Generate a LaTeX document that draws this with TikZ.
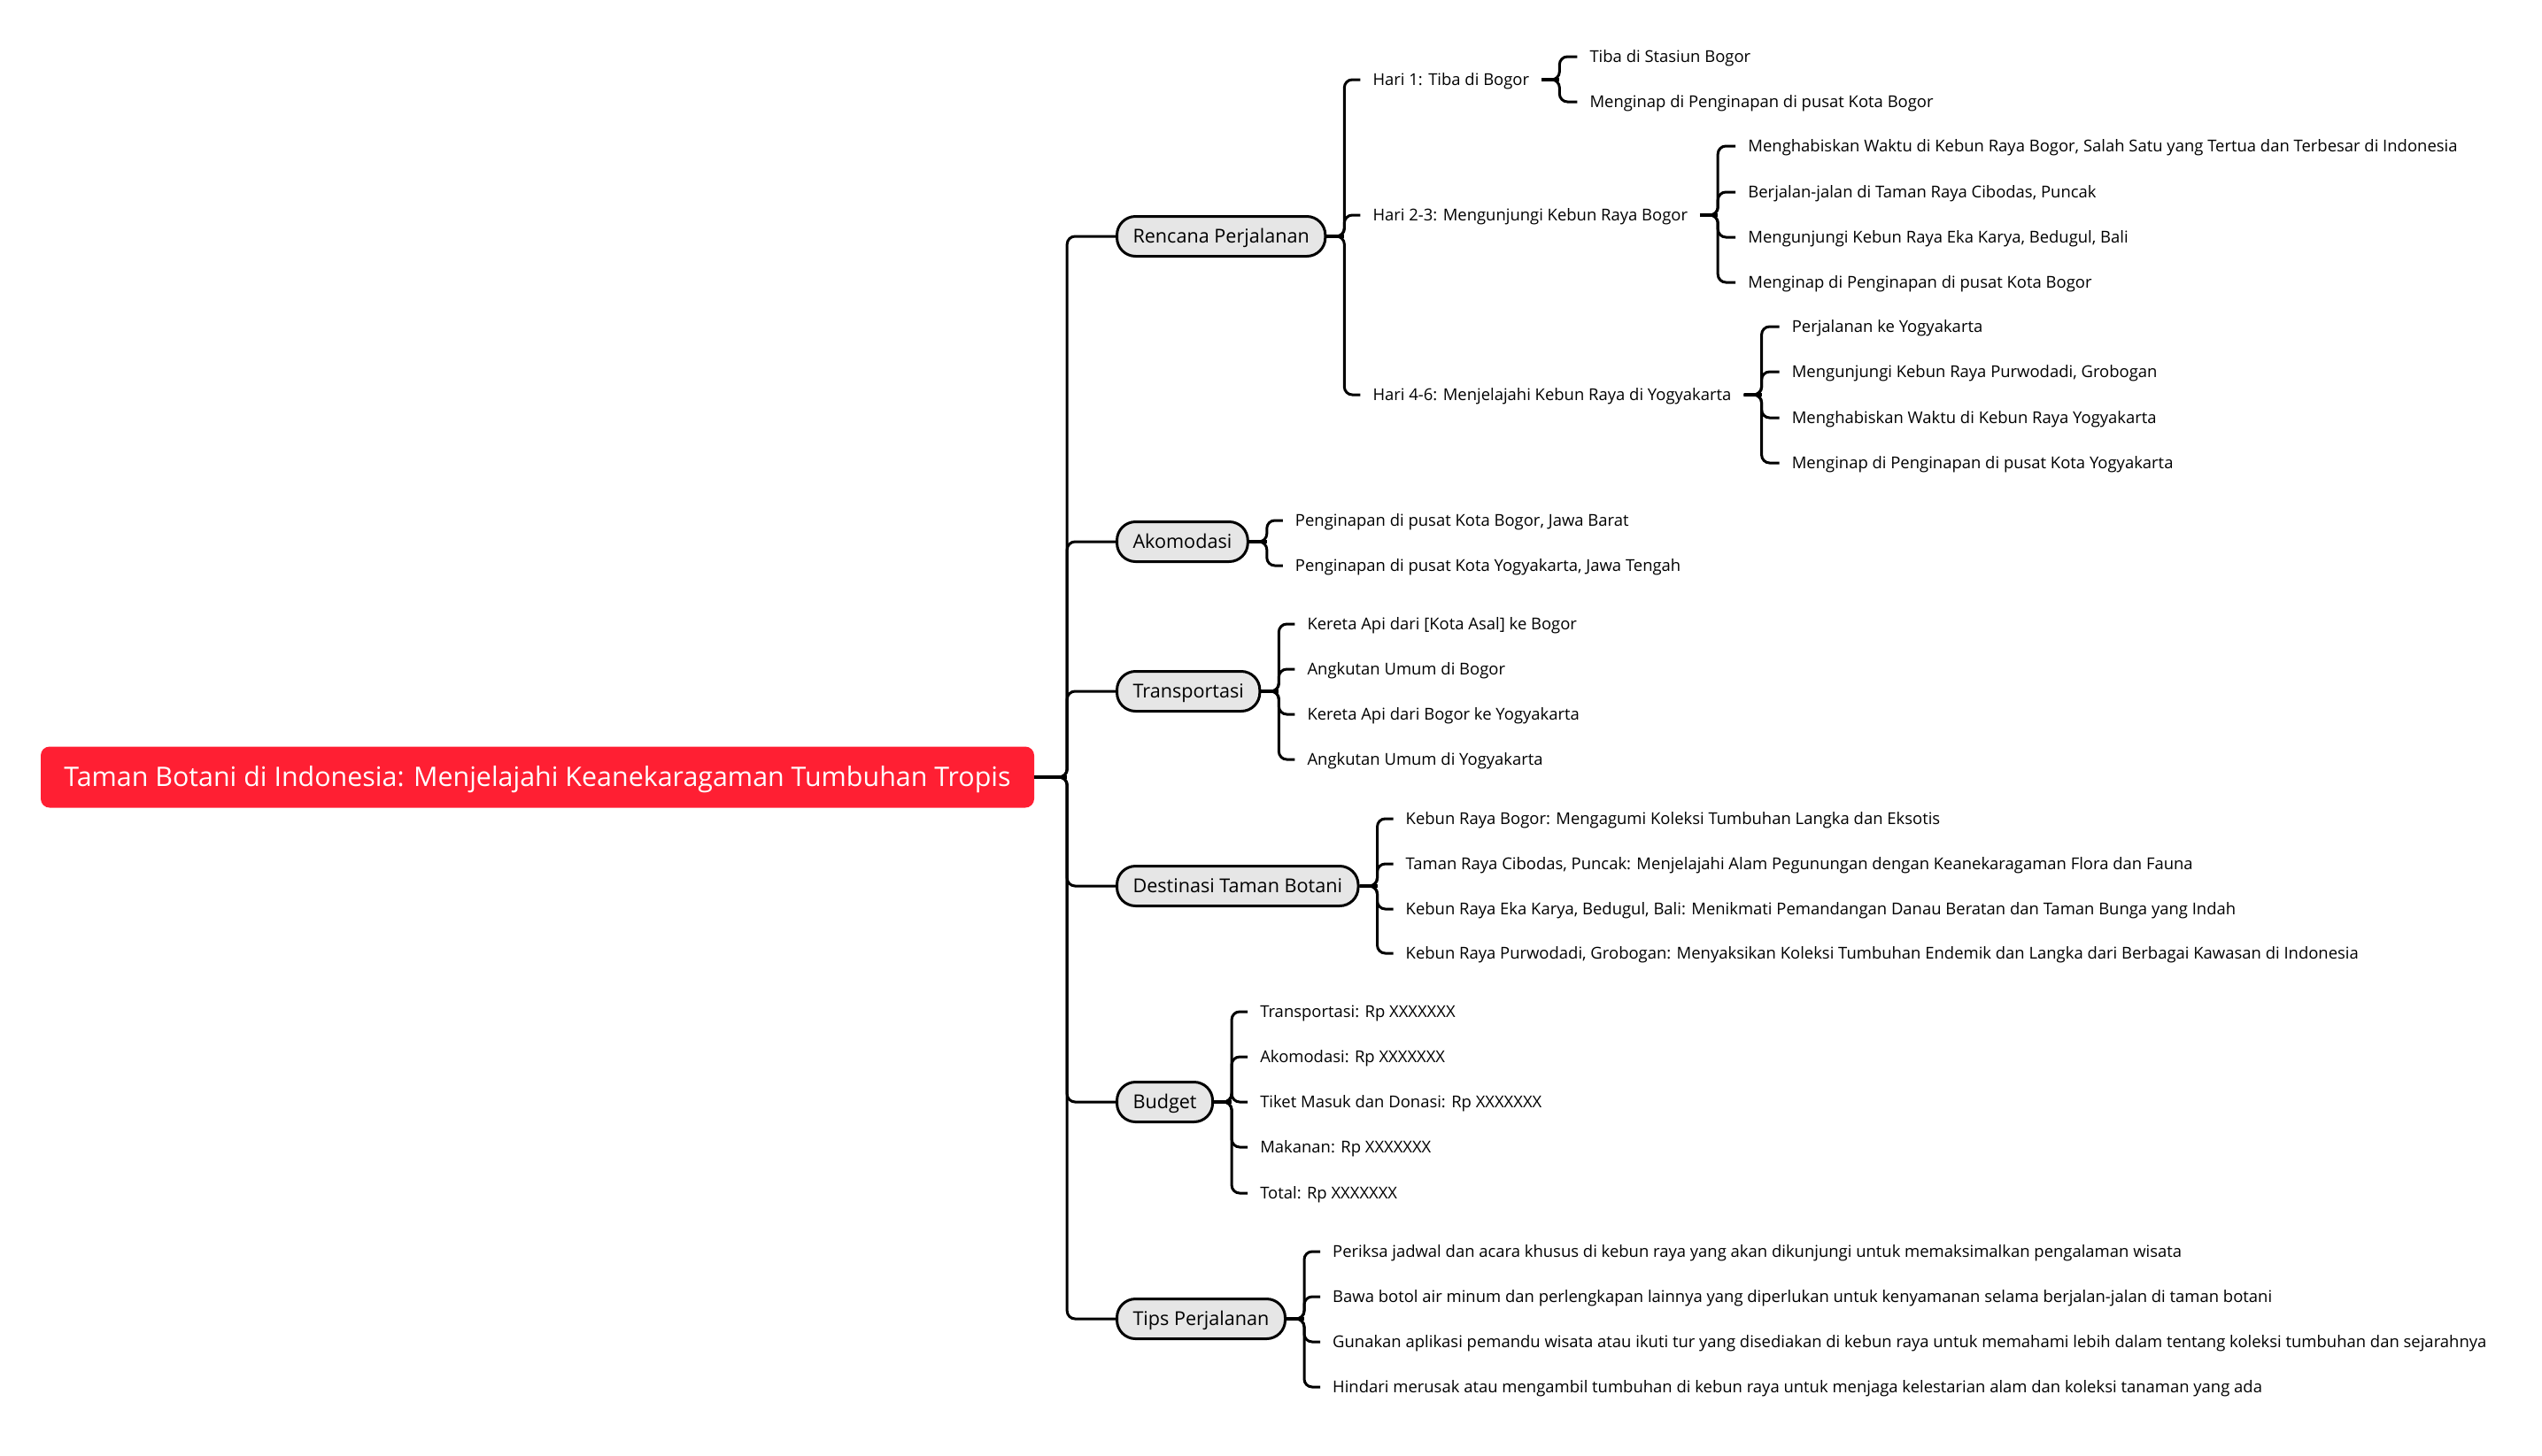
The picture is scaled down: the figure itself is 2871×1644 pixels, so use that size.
\documentclass[tikz,border=0pt]{standalone}
\usepackage{fontspec}
\setmainfont{Open Sans}
\usetikzlibrary{calc}
\definecolor{rootred}{HTML}{FF1F33}
\definecolor{topicgrey}{HTML}{E6E6E6}

\begin{document}
\begin{tikzpicture}[x=1pt, y=-1pt,
  root/.style={rectangle, rounded corners=10pt, fill=rootred, text=white, font=\fontsize{30.4}{36}\selectfont,
    minimum width=1122pt, minimum height=69pt, inner sep=0pt, text height=28.9pt, text depth=7.6pt},
  topic/.style={rectangle, rounded corners=21pt, draw=black, line width=3pt, fill=topicgrey, anchor=west,
    font=\fontsize{21.6}{26}\selectfont, minimum height=45pt, inner xsep=18pt, text height=20.5pt, text depth=5.4pt},
  leaf/.style={anchor=west, font=\fontsize{18.45}{22}\selectfont, inner xsep=14pt, inner ysep=0pt,
    text height=17.5pt, text depth=4.6pt},
  link/.style={line width=3pt, rounded corners=9pt},
  stub/.style={line width=4.5pt}
]
  \useasboundingbox (0,0) rectangle (2871,1644);

  \node[root] (root) at (607,878) {Taman Botani di Indonesia: Menjelajahi Keanekaragaman Tumbuhan Tropis};

  % main topics
  \node[topic] (rp) at (1260,267) {Rencana Perjalanan};
  \node[topic] (ak) at (1260,612) {Akomodasi};
  \node[topic] (tr) at (1260,781) {Transportasi};
  \node[topic] (dt) at (1260,1001) {Destinasi Taman Botani};
  \node[topic] (bd) at (1260,1245) {Budget};
  \node[topic] (tp) at (1260,1490) {Tips Perjalanan};

  % Rencana Perjalanan
  \node[leaf, xshift=38pt] (h1) at (rp.east |- 0,90) {Hari 1: Tiba di Bogor};
  \node[leaf, xshift=38pt] (h2) at (rp.east |- 0,243) {Hari 2-3: Mengunjungi Kebun Raya Bogor};
  \node[leaf, xshift=38pt] (h4) at (rp.east |- 0,446) {Hari 4-6: Menjelajahi Kebun Raya di Yogyakarta};

  \node[leaf, xshift=40pt] (h1a) at (h1.east |- 0,64) {Tiba di Stasiun Bogor};
  \node[leaf, xshift=40pt] (h1b) at (h1.east |- 0,115) {Menginap di Penginapan di pusat Kota Bogor};

  \node[leaf, xshift=40pt] (h2a) at (h2.east |- 0,165) {Menghabiskan Waktu di Kebun Raya Bogor, Salah Satu yang Tertua dan Terbesar di Indonesia};
  \node[leaf, xshift=40pt] (h2b) at (h2.east |- 0,217) {Berjalan-jalan di Taman Raya Cibodas, Puncak};
  \node[leaf, xshift=40pt] (h2c) at (h2.east |- 0,268) {Mengunjungi Kebun Raya Eka Karya, Bedugul, Bali};
  \node[leaf, xshift=40pt] (h2d) at (h2.east |- 0,319) {Menginap di Penginapan di pusat Kota Bogor};

  \node[leaf, xshift=40pt] (h4a) at (h4.east |- 0,369) {Perjalanan ke Yogyakarta};
  \node[leaf, xshift=40pt] (h4b) at (h4.east |- 0,420) {Mengunjungi Kebun Raya Purwodadi, Grobogan};
  \node[leaf, xshift=40pt] (h4c) at (h4.east |- 0,472) {Menghabiskan Waktu di Kebun Raya Yogyakarta};
  \node[leaf, xshift=40pt] (h4d) at (h4.east |- 0,523) {Menginap di Penginapan di pusat Kota Yogyakarta};

  % Akomodasi
  \node[leaf, xshift=38pt] (ak1) at (ak.east |- 0,588) {Penginapan di pusat Kota Bogor, Jawa Barat};
  \node[leaf, xshift=38pt] (ak2) at (ak.east |- 0,639) {Penginapan di pusat Kota Yogyakarta, Jawa Tengah};

  % Transportasi
  \node[leaf, xshift=38pt] (tr1) at (tr.east |- 0,705) {Kereta Api dari [Kota Asal] ke Bogor};
  \node[leaf, xshift=38pt] (tr2) at (tr.east |- 0,756) {Angkutan Umum di Bogor};
  \node[leaf, xshift=38pt] (tr3) at (tr.east |- 0,807) {Kereta Api dari Bogor ke Yogyakarta};
  \node[leaf, xshift=38pt] (tr4) at (tr.east |- 0,858) {Angkutan Umum di Yogyakarta};

  % Destinasi Taman Botani
  \node[leaf, xshift=38pt] (dt1) at (dt.east |- 0,925) {Kebun Raya Bogor: Mengagumi Koleksi Tumbuhan Langka dan Eksotis};
  \node[leaf, xshift=38pt] (dt2) at (dt.east |- 0,976) {Taman Raya Cibodas, Puncak: Menjelajahi Alam Pegunungan dengan Keanekaragaman Flora dan Fauna};
  \node[leaf, xshift=38pt] (dt3) at (dt.east |- 0,1027) {Kebun Raya Eka Karya, Bedugul, Bali: Menikmati Pemandangan Danau Beratan dan Taman Bunga yang Indah};
  \node[leaf, xshift=38pt] (dt4) at (dt.east |- 0,1077) {Kebun Raya Purwodadi, Grobogan: Menyaksikan Koleksi Tumbuhan Endemik dan Langka dari Berbagai Kawasan di Indonesia};

  % Budget
  \node[leaf, xshift=38pt] (bd1) at (bd.east |- 0,1143) {Transportasi: Rp XXXXXXX};
  \node[leaf, xshift=38pt] (bd2) at (bd.east |- 0,1194) {Akomodasi: Rp XXXXXXX};
  \node[leaf, xshift=38pt] (bd3) at (bd.east |- 0,1245) {Tiket Masuk dan Donasi: Rp XXXXXXX};
  \node[leaf, xshift=38pt] (bd4) at (bd.east |- 0,1296) {Makanan: Rp XXXXXXX};
  \node[leaf, xshift=38pt] (bd5) at (bd.east |- 0,1348) {Total: Rp XXXXXXX};

  % Tips Perjalanan
  \node[leaf, xshift=38pt] (tp1) at (tp.east |- 0,1414) {Periksa jadwal dan acara khusus di kebun raya yang akan dikunjungi untuk memaksimalkan pengalaman wisata};
  \node[leaf, xshift=38pt] (tp2) at (tp.east |- 0,1465) {Bawa botol air minum dan perlengkapan lainnya yang diperlukan untuk kenyamanan selama berjalan-jalan di taman botani};
  \node[leaf, xshift=38pt] (tp3) at (tp.east |- 0,1516) {Gunakan aplikasi pemandu wisata atau ikuti tur yang disediakan di kebun raya untuk memahami lebih dalam tentang koleksi tumbuhan dan sejarahnya};
  \node[leaf, xshift=38pt] (tp4) at (tp.east |- 0,1567) {Hindari merusak atau mengambil tumbuhan di kebun raya untuk menjaga kelestarian alam dan koleksi tanaman yang ada};

  % connectors
  \foreach \c in {rp,ak,tr,dt,bd,tp}
    \draw[link] (root.east) -- ++(37,0) |- (\c.west);
  \draw[stub] (root.east) -- ++(37,0);

  \foreach \p/\kids in {rp/{h1,h2,h4}, h1/{h1a,h1b}, h2/{h2a,h2b,h2c,h2d}, h4/{h4a,h4b,h4c,h4d},
      ak/{ak1,ak2}, tr/{tr1,tr2,tr3,tr4}, dt/{dt1,dt2,dt3,dt4}, bd/{bd1,bd2,bd3,bd4,bd5}, tp/{tp1,tp2,tp3,tp4}} {
    \foreach \c in \kids
      \draw[link] (\p.east) -- ++(20,0) |- (\c.west);
    \draw[stub] (\p.east) -- ++(20,0);
  }
\end{tikzpicture}
\end{document}
